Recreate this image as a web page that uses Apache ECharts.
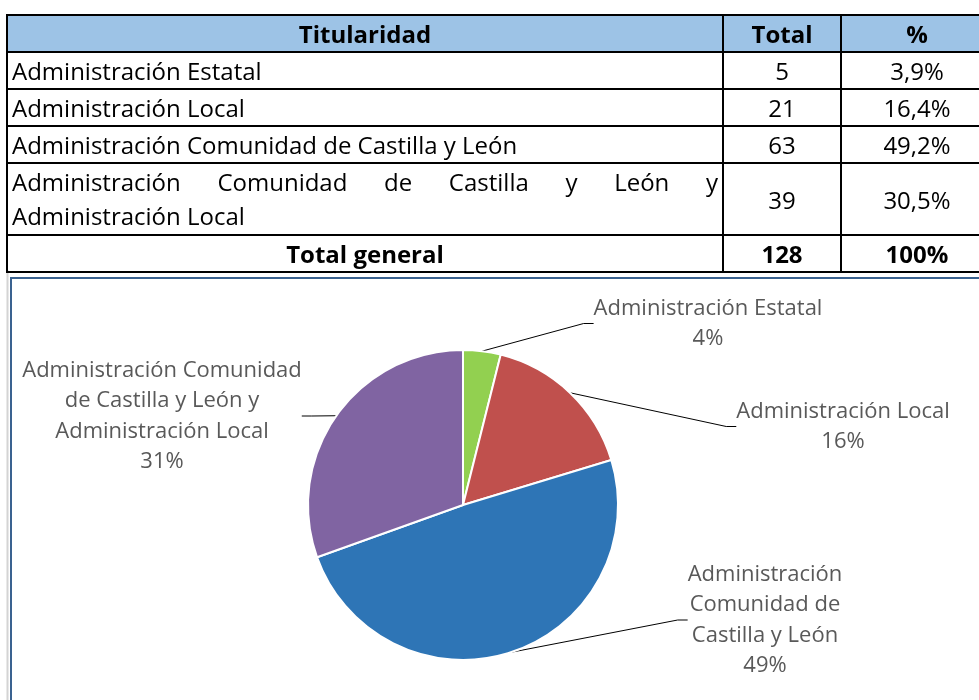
<!DOCTYPE html>
<html>
<head>
<meta charset="utf-8">
<script src="https://cdn.jsdelivr.net/npm/echarts@6/dist/echarts.min.js"></script>
<style>
  html, body { margin: 0; padding: 0; background: #fff; width: 979px; height: 700px; overflow: hidden; }
  #chart { position: absolute; left: 0; top: 0; width: 979px; height: 700px; z-index: 1; }
  #tbl { position: absolute; left: 6px; top: 14px; z-index: 2; border-collapse: collapse; width: 1000px;
         font-family: "Open Sans", "Noto Sans", sans-serif; font-size: 24px; color: #000; table-layout: fixed; }
  #tbl td, #tbl th { border: 2px solid #000; padding: 0 4px; line-height: 35px; height: 35px; white-space: nowrap; }
  #tbl th { background: #9dc3e6; font-weight: bold; text-align: center; }
  #tbl td.num { text-align: center; }
  #tbl tr.tot td { font-weight: bold; text-align: center; }
  #tbl tr > *:nth-child(3) { padding-right: 18px; }
  #tbl td.two { line-height: 34px; padding-top: 1px; padding-bottom: 1px; }
  .j { text-align: justify; text-align-last: justify; white-space: normal; }
</style>
</head>
<body>
<div id="chart"></div>
<table id="tbl">
  <colgroup><col style="width:716px"><col style="width:118px"><col style="width:166px"></colgroup>
  <thead><tr id="hdr"></tr></thead>
  <tbody id="body"></tbody>
</table>
<script>
// ---- data ----
var headers = ['Titularidad', 'Total', '%'];
var categories = [
  'Administración Estatal',
  'Administración Local',
  'Administración Comunidad de Castilla y León',
  'Administración Comunidad de Castilla y León y Administración Local'
];
var totals = [5, 21, 63, 39];
var percents = ['3,9%', '16,4%', '49,2%', '30,5%'];
var totalLabel = 'Total general';
var grandTotal = 128;
var grandPercent = '100%';
// pie label texts (line-broken as in the chart)
var pieLabels = [
  'Administración Estatal',
  'Administración Local',
  'Administración\nComunidad de\nCastilla y León',
  'Administración Comunidad\nde Castilla y León y\nAdministración Local'
];
var colors = ['#92d050', '#c0504d', '#2e75b6', '#8064a2'];

// ---- table ----
var hdr = document.getElementById('hdr');
headers.forEach(function (h) { var th = document.createElement('th'); th.textContent = h; hdr.appendChild(th); });
var body = document.getElementById('body');
categories.forEach(function (c, i) {
  var tr = document.createElement('tr');
  var td = document.createElement('td');
  if (i === 3) {
    td.className = 'two';
    var words = c.split(' ');
    var d1 = document.createElement('div'); d1.className = 'j';
    d1.textContent = words.slice(0, 7).join(' ');
    var d2 = document.createElement('div');
    d2.textContent = words.slice(7).join(' ');
    td.appendChild(d1); td.appendChild(d2);
  } else {
    td.textContent = c;
  }
  tr.appendChild(td);
  var t2 = document.createElement('td'); t2.className = 'num'; t2.textContent = totals[i]; tr.appendChild(t2);
  var t3 = document.createElement('td'); t3.className = 'num'; t3.textContent = percents[i]; tr.appendChild(t3);
  body.appendChild(tr);
});
var trt = document.createElement('tr'); trt.className = 'tot';
[totalLabel, grandTotal, grandPercent].forEach(function (v) { var td = document.createElement('td'); td.textContent = v; trt.appendChild(td); });
body.appendChild(trt);

// ---- chart ----
var chart = echarts.init(document.getElementById('chart'), null, { renderer: 'canvas' });
var labelPos = [
  { x: 708, y: 293 },
  { x: 843, y: 396 },
  { x: 765, y: 559 },
  { x: 162, y: 355 }
];
chart.setOption({
  animation: false,
  graphic: [
    { type: 'line', shape: { x1: 7.5, y1: 270, x2: 7.5, y2: 700 }, style: { stroke: '#d4d4d4', lineWidth: 2 } },
    { type: 'rect', shape: { x: 11, y: 278, width: 1000, height: 500 }, style: { fill: null, stroke: '#3a6290', lineWidth: 2 } }
  ],
  series: [{
    type: 'pie',
    center: [463, 505],
    radius: 155,
    startAngle: 90,
    clockwise: true,
    percentPrecision: 0,
    itemStyle: { borderColor: '#fff', borderWidth: 2 },
    label: {
      show: true,
      position: 'outside',
      formatter: function (p) { return pieLabels[p.dataIndex] + '\n' + p.percent + '%'; },
      fontFamily: '"Open Sans", "Noto Sans", sans-serif',
      fontSize: 22,
      lineHeight: 30.5,
      color: '#595959',
      align: 'center'
    },
    labelLine: { show: true, lineStyle: { color: '#000', width: 1 }, length: 20, length2: 10 },
    labelLayout: function (params) {
      var p = labelPos[params.dataIndex];
      return { x: p.x, y: p.y, align: 'center', verticalAlign: 'top' };
    },
    emphasis: { disabled: true },
    data: categories.map(function (c, i) { return { name: c, value: totals[i], itemStyle: { color: colors[i] } }; })
  }]
});
</script>
</body>
</html>
